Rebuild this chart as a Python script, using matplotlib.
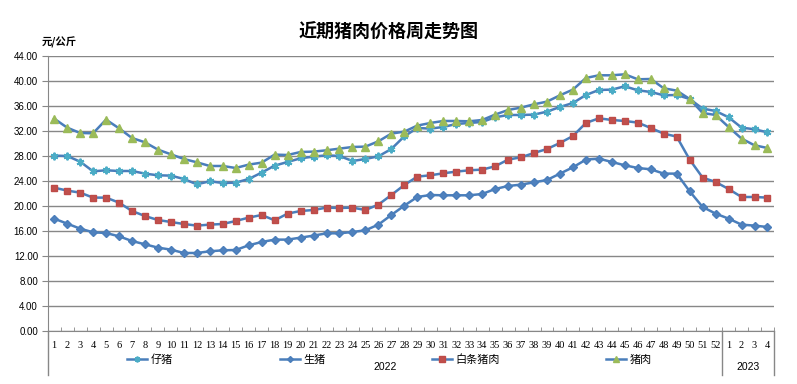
import matplotlib.pyplot as plt
import matplotlib.transforms as mtransforms
from matplotlib.ticker import FormatStrFormatter

plt.rcParams['font.family'] = ['Noto Sans CJK SC', 'DejaVu Sans']

# weeks: 2022 wk1-52, then 2023 wk1-4
week_labels = [str(i) for i in range(1, 53)] + ['1', '2', '3', '4']

piglet = [28.11, 28.05, 27.15, 25.6, 25.76, 25.65, 25.65, 25.23, 24.96, 24.91,
          24.37, 23.52, 24.0, 23.73, 23.79, 24.37, 25.39, 26.51, 27.09, 27.68,
          27.95, 28.16, 28.05, 27.25, 27.57, 28.0, 29.17, 31.2, 32.53, 32.43,
          32.69, 33.17, 33.33, 33.49, 34.24, 34.61, 34.61, 34.67, 35.15, 35.89,
          36.53, 37.81, 38.61, 38.67, 39.2, 38.56, 38.29, 37.76, 37.81, 37.17,
          35.63, 35.25, 34.24, 32.59, 32.32, 31.84]
hog = [18.03, 17.23, 16.43, 15.84, 15.73, 15.2, 14.45, 13.92, 13.39, 13.07,
       12.53, 12.53, 12.8, 12.96, 13.01, 13.76, 14.29, 14.67, 14.67, 14.99,
       15.31, 15.68, 15.68, 15.89, 16.16, 17.07, 18.61, 20.11, 21.49, 21.81,
       21.76, 21.76, 21.76, 21.97, 22.77, 23.25, 23.47, 23.84, 24.21, 25.23,
       26.24, 27.47, 27.63, 27.09, 26.56, 26.13, 25.92, 25.23, 25.23, 22.4,
       19.89, 18.83, 18.03, 17.07, 16.91, 16.69]
carcass = [22.99, 22.51, 22.19, 21.39, 21.39, 20.59, 19.25, 18.45, 17.81, 17.49,
           17.17, 16.91, 17.07, 17.17, 17.65, 18.19, 18.61, 17.76, 18.83, 19.25,
           19.41, 19.79, 19.73, 19.79, 19.41, 20.27, 21.81, 23.41, 24.75, 24.96,
           25.28, 25.55, 25.76, 25.87, 26.4, 27.47, 27.84, 28.53, 29.17, 30.13,
           31.25, 33.33, 34.08, 33.81, 33.65, 33.39, 32.53, 31.63, 31.15, 27.47,
           24.59, 23.89, 22.77, 21.49, 21.49, 21.39]
pork = [34.03, 32.59, 31.73, 31.68, 33.87, 32.48, 30.93, 30.24, 29.07, 28.32,
        27.57, 27.04, 26.45, 26.45, 26.13, 26.67, 26.99, 28.27, 28.21, 28.69,
        28.75, 28.96, 29.23, 29.49, 29.55, 30.4, 31.63, 31.95, 32.91, 33.33,
        33.65, 33.65, 33.6, 33.81, 34.67, 35.41, 35.79, 36.32, 36.75, 37.76,
        38.67, 40.53, 40.96, 40.96, 41.12, 40.32, 40.37, 38.88, 38.51, 37.17,
        34.93, 34.61, 32.69, 30.83, 29.76, 29.33]

x = list(range(1, len(week_labels) + 1))
line_c = '#4a7ebb'
grid_c = '#878787'

fig = plt.figure(figsize=(7.97, 3.84), dpi=100)
ax = fig.add_axes([0.0598, 0.1372, 0.9113, 0.7162])

ax.plot(x, piglet, color=line_c, lw=1.8, marker=(6, 2, 0), ms=5.5,
        mec='#4bacc6', mfc='#4bacc6', mew=1.4, label='仔猪')
ax.plot(x, hog, color=line_c, lw=1.8, marker='D', ms=4,
        mec='#4a7ebb', mfc='#4f81bd', label='生猪')
ax.plot(x, carcass, color=line_c, lw=1.8, marker='s', ms=5,
        mec='#be4b48', mfc='#c0504d', label='白条猪肉')
ax.plot(x, pork, color=line_c, lw=1.8, marker='^', ms=6,
        mec='#9bbb59', mfc='#9bbb59', label='猪肉')

ax.set_xlim(0.5, len(x) + 0.5)
ax.set_ylim(0, 44)
ax.set_yticks(range(0, 45, 4))
ax.yaxis.set_major_formatter(FormatStrFormatter('%.2f'))
ax.yaxis.grid(True, color=grid_c, lw=1)
ax.set_axisbelow(True)

ax.set_xticks(x)
ax.set_xticklabels(week_labels, fontfamily='Liberation Serif', fontsize=7.5)
ax.set_xticks([i + 0.5 for i in range(0, len(x) + 1)], minor=True)
ax.tick_params(axis='x', which='major', length=0, pad=7)
ax.tick_params(axis='x', which='minor', direction='in', length=3, color=grid_c)
ax.tick_params(axis='y', length=4, color=grid_c, pad=3)
for lab in ax.get_yticklabels():
    lab.set_fontfamily('Liberation Sans')
    lab.set_fontsize(7)

for s in ['top', 'right']:
    ax.spines[s].set_visible(False)
ax.spines['left'].set_color(grid_c)
ax.spines['bottom'].set_color(grid_c)

# year group dividers under the axis
trans = mtransforms.blended_transform_factory(ax.transData, ax.transAxes)
for xv in [0.5, 52.5, 56.5]:
    ax.plot([xv, xv], [0, -0.16], transform=trans, color=grid_c, lw=1, clip_on=False)
ax.text(26.5, -0.13, '2022', transform=trans, ha='center', va='center',
        fontfamily='Liberation Sans', fontsize=7.5)
ax.text(54.5, -0.13, '2023', transform=trans, ha='center', va='center',
        fontfamily='Liberation Sans', fontsize=7.5)

ax.legend(loc='center', bbox_to_anchor=(0.471, -0.103), ncol=4, frameon=False,
          fontsize=8, handlelength=1.8, handletextpad=0.3, columnspacing=9.6,
          markerscale=0.75)

fig.text(0.487, 0.915, '近期猪肉价格周走势图', ha='center', va='center',
         fontsize=13, fontweight='bold')
fig.text(0.052, 0.89, '元/公斤', ha='left', va='center', fontsize=7.5,
         fontweight='bold')

fig.savefig('out.png', dpi=100)
